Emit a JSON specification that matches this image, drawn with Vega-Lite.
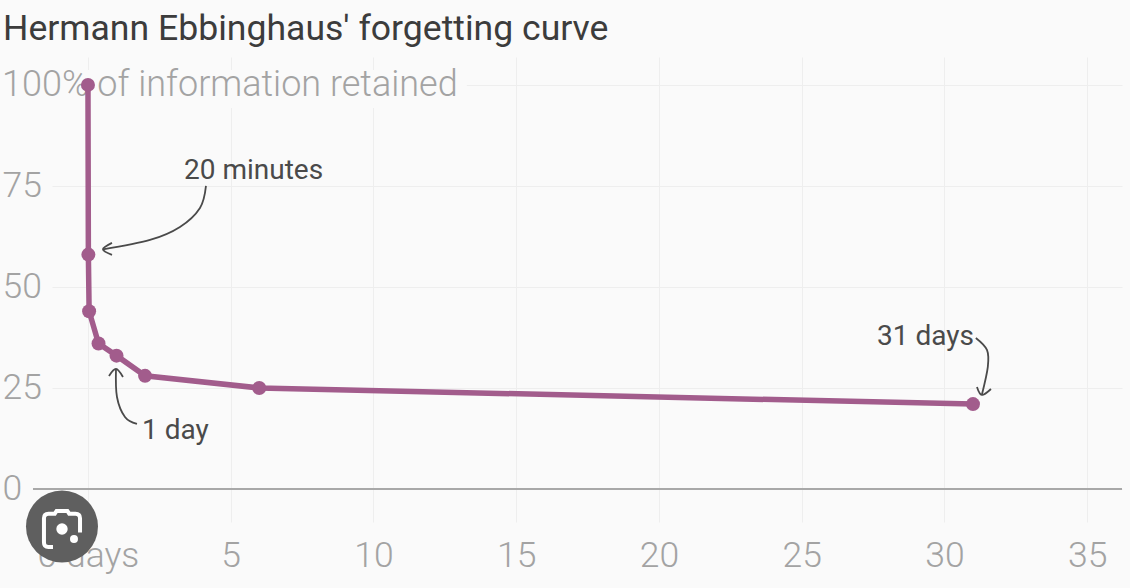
{"$schema":"https://vega.github.io/schema/vega-lite/v6.json","width":1070,"height":465,"autosize":{"type":"none"},"padding":{"left":52,"top":57,"right":8,"bottom":66},"background":"#fafafa","title":{"text":"Hermann Ebbinghaus' forgetting curve","anchor":"start","frame":"group","dx":-49,"offset":9,"font":"Roboto","fontSize":35.6,"fontWeight":400,"color":"#3c3c3c"},"config":{"view":{"stroke":null},"font":"Roboto"},"datasets":{"curve":[{"days":0,"retained":100},{"days":0.014,"retained":58},{"days":0.04,"retained":44},{"days":0.37,"retained":36},{"days":1,"retained":33},{"days":2,"retained":28},{"days":6,"retained":25},{"days":31,"retained":21}],"arrows":[{"a":"m","o":1,"days":4.133,"retained":75},{"a":"m","o":2,"days":3.923,"retained":69.55},{"a":"m","o":3,"days":3.222,"retained":64.85},{"a":"m","o":4,"days":2.172,"retained":61.63},{"a":"m","o":5,"days":0.525,"retained":59.3},{"a":"mh","o":1,"days":0.841,"retained":60.89},{"a":"mh","o":2,"days":0.525,"retained":59.3},{"a":"mh","o":3,"days":0.841,"retained":57.92},{"a":"d","o":1,"days":1.716,"retained":16.09},{"a":"d","o":2,"days":1.296,"retained":17.82},{"a":"d","o":3,"days":1.016,"retained":22.77},{"a":"d","o":4,"days":0.981,"retained":29.7},{"a":"dh","o":1,"days":0.736,"retained":27.97},{"a":"dh","o":2,"days":0.981,"retained":29.7},{"a":"dh","o":3,"days":1.226,"retained":27.72},{"a":"t","o":1,"days":31.1,"retained":37.38},{"a":"t","o":2,"days":31.49,"retained":34.41},{"a":"t","o":3,"days":31.52,"retained":30.2},{"a":"t","o":4,"days":31.31,"retained":23.27},{"a":"th","o":1,"days":31.14,"retained":25.25},{"a":"th","o":2,"days":31.31,"retained":23.27},{"a":"th","o":3,"days":31.63,"retained":24.75}],"notes":[{"label":"20 minutes","days":3.363,"retained":78.7},{"label":"1 day","days":1.891,"retained":14.35},{"label":"31 days","days":27.64,"retained":37.6}]},"encoding":{"x":{"field":"days","type":"quantitative","scale":{"domain":[-1.26,36.22],"nice":false,"zero":false},"axis":{"values":[0,5,10,15,20,25,30,35],"title":null,"domain":false,"ticks":false,"grid":true,"gridColor":"#eeeeee","gridWidth":1,"labelPadding":33,"labelFont":"Roboto","labelFontWeight":300,"labelFontSize":35.5,"labelColor":"#a3a3a3","labelBaseline":"middle","labelOverlap":false,"labelBound":false,"labelFlush":false,"labelExpr":"datum.value==0?'0 days':datum.label"}},"y":{"field":"retained","type":"quantitative","scale":{"domain":[-8.17,106.9],"nice":false,"zero":false},"axis":{"values":[0,25,50,75,100],"title":null,"domain":false,"ticks":false,"grid":true,"gridColor":"#eeeeee","gridWidth":1,"labelAlign":"left","labelPadding":50,"labelFont":"Roboto","labelFontWeight":300,"labelFontSize":35.5,"labelColor":"#a3a3a3","labelOverlap":false,"labelBound":false,"labelExpr":"datum.value==100?'':datum.label"}}},"layer":[{"data":{"values":[{"x1":-1.26,"x2":13.27,"y1":94.3,"y2":103.7}]},"mark":{"type":"rect","fill":"#fafafa"},"encoding":{"x":{"field":"x1","type":"quantitative"},"x2":{"field":"x2"},"y":{"field":"y1","type":"quantitative"},"y2":{"field":"y2"}}},{"data":{"values":[{"days":-3.012,"retained":100,"label":"100% of information retained"}]},"mark":{"type":"text","align":"left","baseline":"middle","font":"Roboto","fontWeight":300,"fontSize":36,"fill":"#a3a3a3"},"encoding":{"text":{"field":"label"}}},{"data":{"values":[{"x1":-1.926,"x2":36.22,"y":0}]},"mark":{"type":"rule","stroke":"#a8a8a8","strokeWidth":2},"encoding":{"x":{"field":"x1","type":"quantitative"},"x2":{"field":"x2"},"y":{"field":"y","type":"quantitative"}}},{"data":{"name":"arrows"},"mark":{"type":"line","interpolate":"cardinal","stroke":"#4a4a4a","strokeWidth":1.8},"encoding":{"detail":{"field":"a"},"order":{"field":"o"}}},{"data":{"name":"curve"},"mark":{"type":"line","stroke":"#a25c8c","strokeWidth":5.5},"encoding":{"order":{"field":"days"}}},{"data":{"name":"curve"},"mark":{"type":"point","filled":true,"fill":"#a25c8c","opacity":1,"size":196,"shape":"circle"}},{"data":{"name":"notes"},"mark":{"type":"text","align":"left","baseline":"middle","font":"Roboto","fontSize":28,"fill":"#4a4a4a"},"encoding":{"text":{"field":"label"}}},{"data":{"values":[{"days":-0.91,"retained":-9.3}]},"mark":{"type":"point","filled":true,"fill":"#5f5f5f","opacity":1,"size":5184,"shape":"circle"}},{"data":{"values":[{"days":-0.91,"retained":-9.9}]},"mark":{"type":"point","filled":false,"stroke":"#ffffff","strokeWidth":4,"opacity":1,"size":1300,"shape":"M-0.5,1 H-0.75 Q-1,1 -1,0.75 V-0.6 Q-1,-0.85 -0.75,-0.85 H-0.4 L-0.3,-1 H0.3 L0.4,-0.85 H0.75 Q1,-0.85 1,-0.6 V0.2"}},{"data":{"values":[{"days":-0.91,"retained":-9.9}]},"mark":{"type":"point","filled":true,"fill":"#ffffff","opacity":1,"size":130,"shape":"circle"}},{"data":{"values":[{"days":-0.49,"retained":-12.4}]},"mark":{"type":"point","filled":true,"fill":"#ffffff","opacity":1,"size":64,"shape":"circle"}}]}
